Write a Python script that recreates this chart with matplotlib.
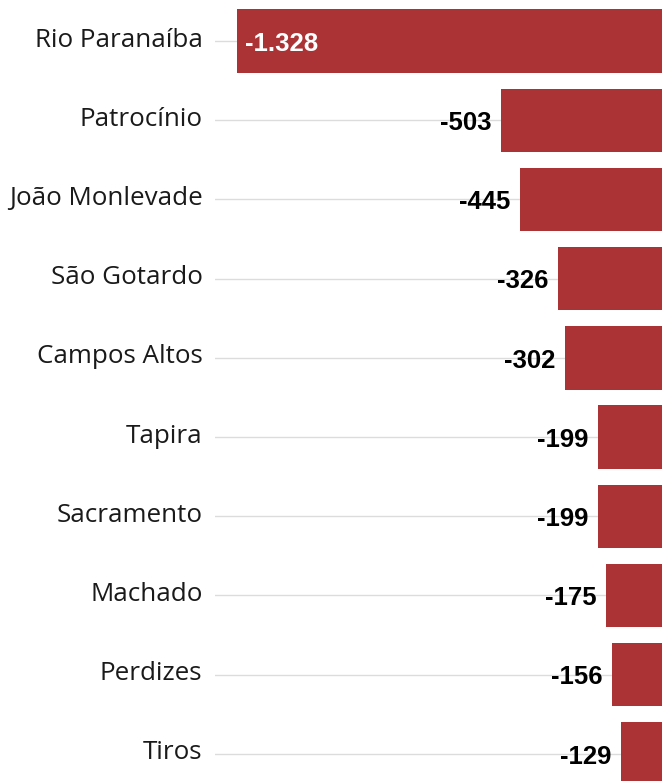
import matplotlib
matplotlib.use("Agg")
import matplotlib.pyplot as plt
import matplotlib.transforms as mtransforms

# municipios e saldo
cidades = ["Rio Paranaíba", "Patrocínio", "João Monlevade", "São Gotardo", "Campos Altos",
           "Tapira", "Sacramento", "Machado", "Perdizes", "Tiros"]
saldos = [-1328, -503, -445, -326, -302, -199, -199, -175, -156, -129]
rotulos = ["-1.328", "-503", "-445", "-326", "-302", "-199", "-199", "-175", "-156", "-129"]

fig = plt.figure(figsize=(6.62, 7.81), dpi=100)
ax = fig.add_axes([215 / 662, 0, 447 / 662, 1])

pos = list(range(len(cidades)))
ax.barh(pos, saldos, height=0.8, color="#ab3235", zorder=2)

ax.set_xlim(-1397, 0)
ax.set_ylim(9.343, -0.518)
ax.set_yticks(pos)
ax.set_yticklabels(cidades, family="Open Sans", fontsize=18.7, color="#1a1a1a")
ax.tick_params(axis="y", length=0, pad=9)
# rotulos um pouco acima da linha
desloc = mtransforms.ScaledTranslation(0, 4 / 100, fig.dpi_scale_trans)
for lbl in ax.get_yticklabels():
    lbl.set_transform(lbl.get_transform() + desloc)
ax.set_xticks([])
ax.grid(axis="y", color="#dcdcdc", linewidth=1, zorder=0)
for s in ax.spines.values():
    s.set_visible(False)

for i, (v, r) in enumerate(zip(saldos, rotulos)):
    if i == 0:
        ax.annotate(r, (v, i), xytext=(6, -2), textcoords="offset points",
                    ha="left", va="center", color="white", fontsize=18.5,
                    fontweight="bold", family="Liberation Sans")
    else:
        ax.annotate(r, (v, i), xytext=(-7, -2), textcoords="offset points",
                    ha="right", va="center", color="black", fontsize=18.5,
                    fontweight="bold", family="Liberation Sans")

fig.savefig("out.png", dpi=100)
